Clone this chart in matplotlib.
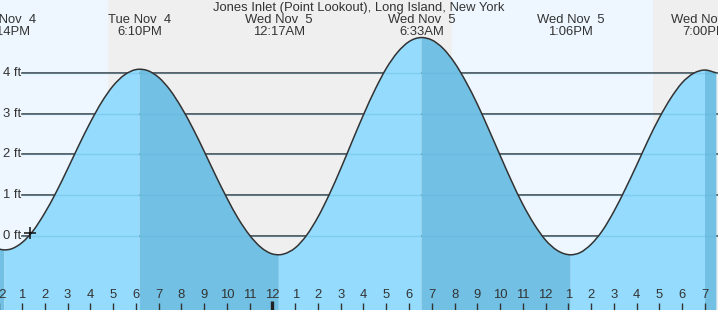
import matplotlib
matplotlib.use("Agg")
import matplotlib.pyplot as plt
import matplotlib.transforms as mtransforms
from matplotlib.path import Path
from matplotlib.patches import PathPatch
import numpy as np

plt.rcParams['font.family'] = ['Liberation Sans', 'DejaVu Sans']

title = "Jones Inlet (Point Lookout), Long Island, New York"

# tide extremes, hours from Nov 4 00:00 local time
event_hours = [12.23, 18.17, 24.28, 30.55, 37.10, 43.00]
event_ft = [-0.35, 4.10, -0.47, 4.88, -0.47, 4.08]
event_day = ["Tue Nov  4", "Tue Nov  4", "Wed Nov  5", "Wed Nov  5", "Wed Nov  5", "Wed Nov  5"]
event_time = ["12:14PM", "6:10PM", "12:17AM", "6:33AM", "1:06PM", "7:00PM"]

# tide height every half hour
tide_hours = [12.0 + 0.5 * i for i in range(64)]
tide_ft = [-0.33, -0.33, -0.17, 0.13, 0.56, 1.07, 1.64, 2.23, 2.79, 3.29, 3.69, 3.96, 4.09,
           4.07, 3.90, 3.59, 3.16, 2.65, 2.08, 1.49, 0.93, 0.42, 0.01, -0.29, -0.45,
           -0.45, -0.30, 0.01, 0.46, 1.02, 1.65, 2.32, 2.98, 3.59, 4.12, 4.52, 4.78, 4.88,
           4.82, 4.61, 4.26, 3.79, 3.24, 2.62, 1.98, 1.35, 0.77, 0.28, -0.11, -0.36, -0.47,
           -0.42, -0.21, 0.13, 0.60, 1.15, 1.74, 2.35, 2.91, 3.39, 3.77, 4.00, 4.08, 4.01]

# daylight spans (sunrise, sunset)
day_spans = [(10.0, 16.78), (31.9, 40.72)]

now_hour, now_ft = 13.35, 0.07
y_ticks = [0, 1, 2, 3, 4]

W, H = 718, 310
x0, x1 = 12.034, 43.571
y0, y1 = -1.830, 5.805

day_bg = '#eef7ff'
night_bg = '#efefef'
rise_col = '#94dbfd'
fall_col = '#72c1e4'
ink = '#333333'
fs = 9.4

fig = plt.figure(figsize=(W / 100, H / 100), dpi=100)
ax = fig.add_axes([0, 0, 1, 1])
ax.set_xlim(x0, x1)
ax.set_ylim(y0, y1)
ax.axis('off')

# night background, then day spans
ax.axvspan(x0, x1, color=night_bg, zorder=0)
for a, b in day_spans:
    ax.axvspan(a, b, color=day_bg, zorder=0.5, lw=0)

# horizontal reference lines (dark over background)
xstart = x0 + 22 / W * (x1 - x0)
for v in y_ticks:
    ax.plot([xstart, x1], [v, v], color=ink, lw=1.1, zorder=1)

# merge readings with the extremes; drop readings sitting right on an extreme
keep = [i for i, th in enumerate(tide_hours) if min(abs(th - e) for e in event_hours) > 0.15]
t = np.array([tide_hours[i] for i in keep] + event_hours)
h = np.array([tide_ft[i] for i in keep] + event_ft)
order = np.argsort(t)
t, h = t[order], h[order]
is_event = np.isin(t, event_hours)

# slopes for a smooth (hermite) pass through the readings, flat at extremes
m = np.gradient(h, t)
m[is_event] = 0.0

def curve_verts(i0, i1):
    verts, codes = [(t[i0], h[i0])], [Path.LINETO]
    for i in range(i0, i1):
        dt = t[i + 1] - t[i]
        verts += [(t[i] + dt / 3, h[i] + m[i] * dt / 3),
                  (t[i + 1] - dt / 3, h[i + 1] - m[i + 1] * dt / 3),
                  (t[i + 1], h[i + 1])]
        codes += [Path.CURVE4] * 3
    return verts, codes

# fills, split at each extreme
idx_events = list(np.where(is_event)[0])
bounds = [0] + idx_events + [len(t) - 1]
for k in range(len(bounds) - 1):
    i0, i1 = bounds[k], bounds[k + 1]
    col = rise_col if h[i1] > h[i0] else fall_col
    v, c = curve_verts(i0, i1)
    verts = [(t[i0], y0)] + v + [(t[i1], y0), (t[i0], y0)]
    codes = [Path.MOVETO] + c + [Path.LINETO, Path.CLOSEPOLY]
    ax.add_patch(PathPatch(Path(verts, codes), facecolor=col, edgecolor='none', zorder=2))

# faint lines inside water
for v in y_ticks:
    ax.plot([xstart, x1], [v, v], color='#5ab0d8', lw=1, alpha=0.35, zorder=3)

v, c = curve_verts(0, len(t) - 1)
c[0] = Path.MOVETO
ax.add_patch(PathPatch(Path(v, c), facecolor='none', edgecolor=ink, lw=1.1, zorder=4))

ax.plot([now_hour], [now_ft], marker='+', color='#111111', ms=8, mew=1.1, zorder=5)

# y labels
ytr = mtransforms.blended_transform_factory(ax.transAxes, ax.transData)
for v in y_ticks:
    ax.text(3 / W, v, f"{v} ft", transform=ytr, ha='left', va='center', fontsize=fs, color=ink, zorder=6)

tr = mtransforms.blended_transform_factory(ax.transData, ax.transAxes)

def ypx(p):
    return 1 - p / H

ax.text(0.5, ypx(8.5), title, transform=ax.transAxes, ha='center', va='center', fontsize=fs, color=ink)
for eh, d, tm in zip(event_hours, event_day, event_time):
    ax.text(eh, ypx(20), d, transform=tr, ha='center', va='center', fontsize=fs, color=ink)
    ax.text(eh, ypx(32), tm, transform=tr, ha='center', va='center', fontsize=fs, color=ink)

# hour ticks along the bottom
for hr in range(12, 44):
    lab = str((hr - 1) % 12 + 1)
    ax.text(hr, ypx(295.5), lab, transform=tr, ha='center', va='center', fontsize=fs, color=ink)
    if hr % 24 == 0:
        ax.plot([hr, hr], [ypx(301), 0], transform=tr, color='#222222', lw=2.4, solid_capstyle='butt', zorder=6)
    else:
        ax.plot([hr, hr], [ypx(303), 0], transform=tr, color=ink, lw=1, solid_capstyle='butt', zorder=6)

fig.savefig("out.png", dpi=100)
